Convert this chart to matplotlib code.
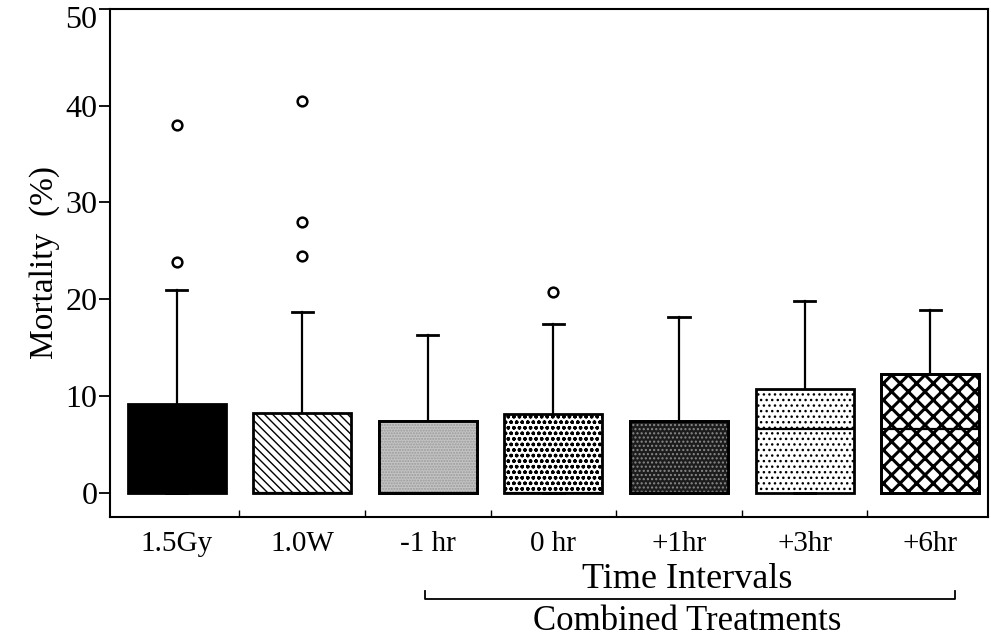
import matplotlib
matplotlib.use("Agg")
import matplotlib.pyplot as plt
import matplotlib.transforms as mtransforms
from matplotlib.patches import PathPatch
from matplotlib.ticker import FixedLocator

plt.rcParams['font.family'] = ['Liberation Serif', 'DejaVu Serif']
plt.rcParams['hatch.linewidth'] = 1.0

categories = ["1.5Gy", "1.0W", "-1 hr", "0 hr", "+1hr", "+3hr", "+6hr"]
q1 = [0, 0, 0, 0, 0, 0, 0]
median = [0, 0, 0, 0, 0, 6.6, 6.6]
q3 = [9.2, 8.2, 7.4, 8.1, 7.4, 10.7, 12.3]
whisker_low = [0, 0, 0, 0, 0, 0, 0]
whisker_high = [20.9, 18.7, 16.3, 17.4, 18.2, 19.8, 18.9]
outliers = [[38.0, 23.8], [40.5, 28.0, 24.5], [], [20.7], [], [], []]

facecolors = ["black", "white", "#c4c4c4", "white", "#1c1c1c", "white", "white"]
hatches = [None, "\\\\\\\\", None, "ooo", None, "...", None]
overlay = [None, None, "......", None, "....", None, "xx"]
overlay_colors = [None, None, "#9a9a9a", None, "#8a8a8a", None, "black"]
overlay_lw = [1.0, 1.0, 1.0, 1.0, 1.0, 1.0, 2.2]

fig = plt.figure(figsize=(9.91, 6.38), dpi=100)
ax = fig.add_axes([0.111, 0.190, 0.886, 0.796])

stats = []
for i, c in enumerate(categories):
    stats.append(dict(label=c, q1=q1[i], med=median[i], q3=q3[i],
                      whislo=whisker_low[i], whishi=whisker_high[i],
                      fliers=outliers[i]))

positions = list(range(1, len(categories) + 1))
bp = ax.bxp(stats, positions=positions, widths=0.78, patch_artist=True,
            showfliers=True, capwidths=0.17,
            boxprops=dict(linewidth=2.0, edgecolor="black"),
            whiskerprops=dict(linewidth=1.6, color="black"),
            capprops=dict(linewidth=2.0, color="black"),
            medianprops=dict(linewidth=1.6, color="black", zorder=5),
            flierprops=dict(marker="o", markersize=7, markerfacecolor="white",
                            markeredgecolor="black", markeredgewidth=1.8))

for i, box in enumerate(bp["boxes"]):
    box.set_facecolor(facecolors[i])
    if hatches[i]:
        box.set_hatch(hatches[i])
    if overlay[i]:
        with plt.rc_context({'hatch.linewidth': overlay_lw[i]}):
            pp = PathPatch(box.get_path(), transform=box.get_transform(),
                           fill=False, hatch=overlay[i], edgecolor=overlay_colors[i],
                           linewidth=0, zorder=box.get_zorder() + 0.1)
            ax.add_patch(pp)
        edge = PathPatch(box.get_path(), transform=box.get_transform(),
                         fill=False, edgecolor="black", linewidth=2.0,
                         zorder=box.get_zorder() + 0.2)
        ax.add_patch(edge)

ax.set_xlim(0.47, 7.46)
ax.set_ylim(-2.5, 50)
ax.set_yticks([0, 10, 20, 30, 40, 50])
ax.tick_params(axis="y", direction="out", length=8, width=1.3, pad=1, labelsize=23)
offset = mtransforms.ScaledTranslation(0, -6 / 72, fig.dpi_scale_trans)
top_label = ax.get_yticklabels()[-1]
top_label.set_transform(top_label.get_transform() + offset)
ax.set_xticks(positions)
ax.set_xticklabels(categories)
ax.tick_params(axis="x", which="major", length=0, pad=10, labelsize=21)
ax.xaxis.set_minor_locator(FixedLocator([p + 0.5 for p in positions[:-1]]))
ax.tick_params(axis="x", which="minor", direction="in", length=5, width=1.0)
for s in ax.spines.values():
    s.set_linewidth(1.5)

ax.set_ylabel("Mortality  (%)", fontsize=24, labelpad=4)

# group annotations below the axis
fig_h = 638.0
fig.text(0.693, 1 - 588 / fig_h, "Time Intervals", ha="center", va="baseline", fontsize=26)
fig.text(0.693, 1 - 630 / fig_h, "Combined Treatments", ha="center", va="baseline", fontsize=25)
btrans = mtransforms.blended_transform_factory(ax.transData, fig.transFigure)
yb = 1 - 599 / fig_h
yt = 1 - 591 / fig_h
ax.plot([2.98, 2.98, 7.2, 7.2], [yt, yb, yb, yt], transform=btrans,
        color="black", linewidth=1.3, clip_on=False)

fig.savefig("out.png", dpi=100)
